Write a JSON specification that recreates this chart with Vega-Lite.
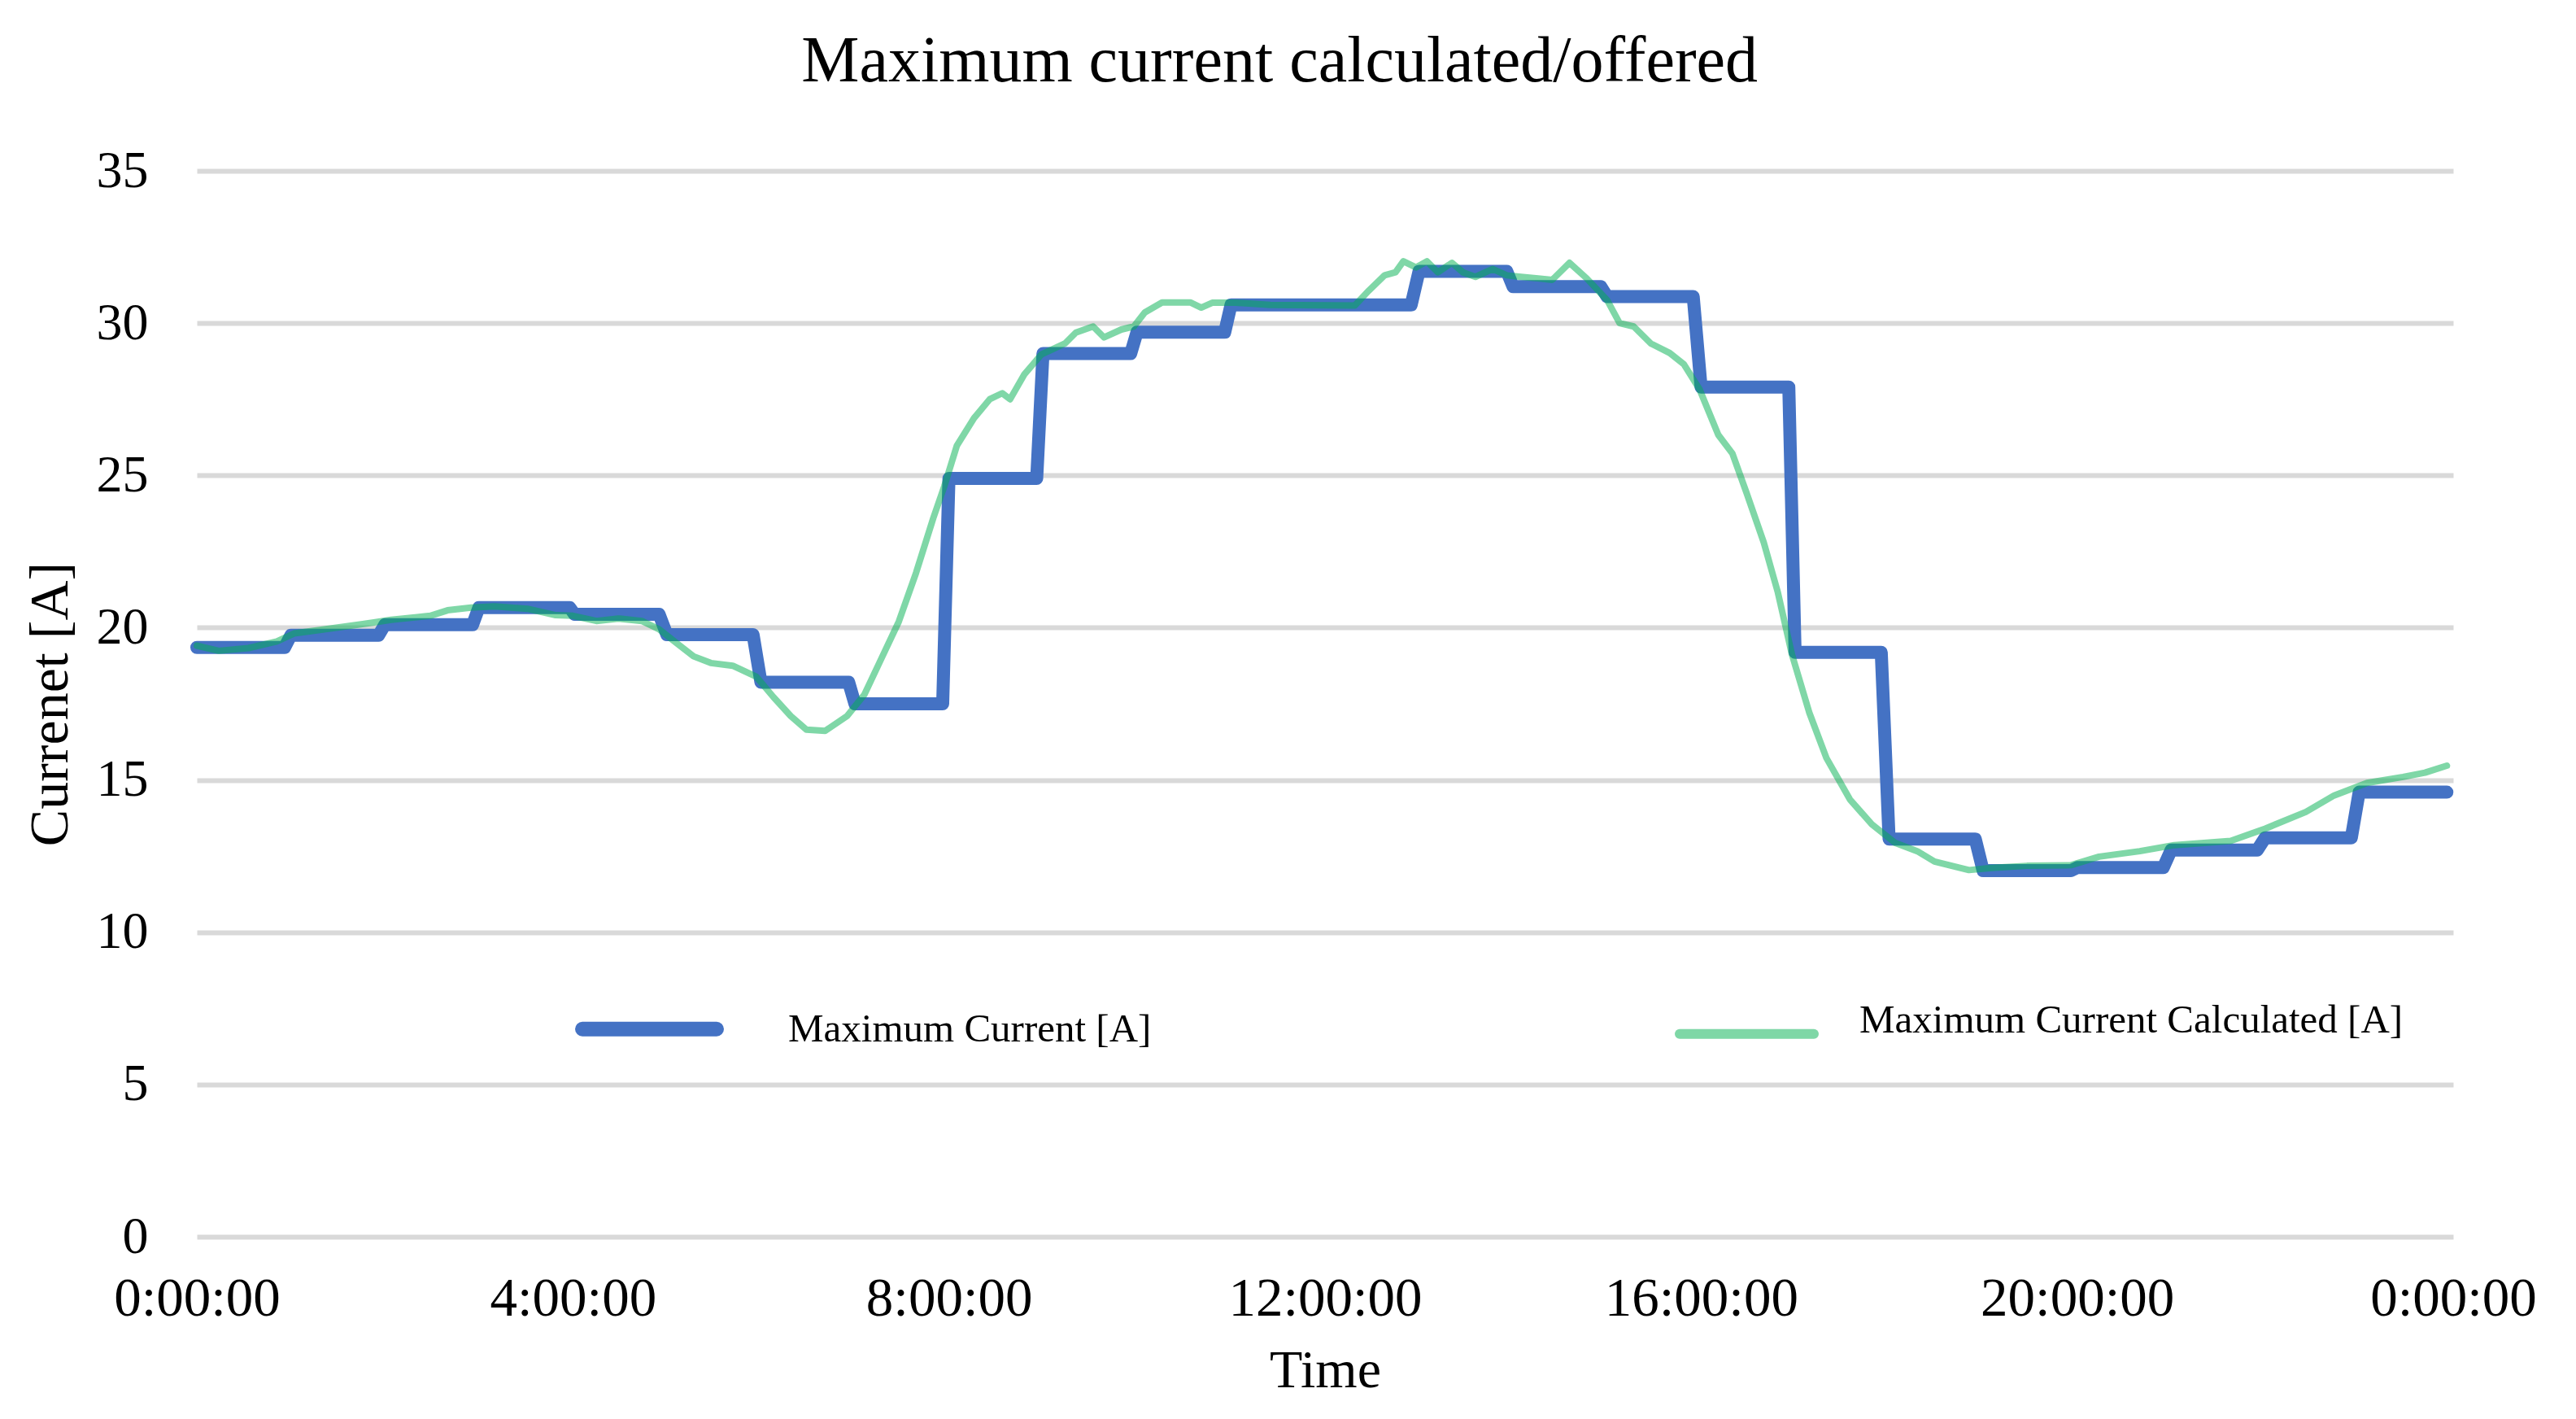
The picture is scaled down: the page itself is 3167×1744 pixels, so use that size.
{
  "$schema": "https://vega.github.io/schema/vega-lite/v6.json",
  "width": 2774,
  "height": 1310,
  "autosize": {"type": "none"},
  "padding": {"left": 242, "top": 210, "right": 151, "bottom": 224},
  "background": "white",
  "config": {
    "font": "Liberation Serif",
    "view": {"stroke": null},
    "axis": {"labelColor": "black", "titleColor": "black", "titleFontWeight": "normal", "ticks": false, "domain": false}
  },
  "title": {
    "text": "Maximum current calculated/offered",
    "fontSize": 80,
    "fontWeight": "normal",
    "color": "black",
    "anchor": "middle",
    "frame": "bounds",
    "baseline": "alphabetic",
    "offset": -2
  },
  "datasets": {
    "offered": [
      {"t": "2024-01-01T00:00", "v": 19.35},
      {"t": "2024-01-01T00:56", "v": 19.35},
      {"t": "2024-01-01T01:00", "v": 19.75},
      {"t": "2024-01-01T01:56", "v": 19.75},
      {"t": "2024-01-01T02:00", "v": 20.1},
      {"t": "2024-01-01T02:56", "v": 20.1},
      {"t": "2024-01-01T03:00", "v": 20.66},
      {"t": "2024-01-01T03:58", "v": 20.66},
      {"t": "2024-01-01T04:01", "v": 20.44},
      {"t": "2024-01-01T04:55", "v": 20.44},
      {"t": "2024-01-01T05:00", "v": 19.77},
      {"t": "2024-01-01T05:55", "v": 19.77},
      {"t": "2024-01-01T06:00", "v": 18.21},
      {"t": "2024-01-01T06:56", "v": 18.21},
      {"t": "2024-01-01T07:00", "v": 17.5},
      {"t": "2024-01-01T07:56", "v": 17.5},
      {"t": "2024-01-01T08:00", "v": 24.9},
      {"t": "2024-01-01T08:56", "v": 24.9},
      {"t": "2024-01-01T09:00", "v": 29.0},
      {"t": "2024-01-01T09:56", "v": 29.0},
      {"t": "2024-01-01T10:00", "v": 29.7},
      {"t": "2024-01-01T10:56", "v": 29.7},
      {"t": "2024-01-01T11:00", "v": 30.6},
      {"t": "2024-01-01T12:55", "v": 30.6},
      {"t": "2024-01-01T13:00", "v": 31.7},
      {"t": "2024-01-01T13:56", "v": 31.7},
      {"t": "2024-01-01T14:00", "v": 31.2},
      {"t": "2024-01-01T14:56", "v": 31.2},
      {"t": "2024-01-01T15:00", "v": 30.87},
      {"t": "2024-01-01T15:55", "v": 30.87},
      {"t": "2024-01-01T16:00", "v": 27.9},
      {"t": "2024-01-01T16:56", "v": 27.9},
      {"t": "2024-01-01T17:00", "v": 19.19},
      {"t": "2024-01-01T17:55", "v": 19.19},
      {"t": "2024-01-01T18:00", "v": 13.06},
      {"t": "2024-01-01T18:55", "v": 13.06},
      {"t": "2024-01-01T19:00", "v": 12.02},
      {"t": "2024-01-01T19:56", "v": 12.02},
      {"t": "2024-01-01T20:00", "v": 12.12},
      {"t": "2024-01-01T20:55", "v": 12.12},
      {"t": "2024-01-01T21:00", "v": 12.7},
      {"t": "2024-01-01T21:55", "v": 12.7},
      {"t": "2024-01-01T22:00", "v": 13.1},
      {"t": "2024-01-01T22:55", "v": 13.1},
      {"t": "2024-01-01T23:00", "v": 14.6},
      {"t": "2024-01-01T23:56", "v": 14.6}
    ],
    "calculated": [
      {"t": "2024-01-01T00:00", "v": 19.41},
      {"t": "2024-01-01T00:14", "v": 19.24},
      {"t": "2024-01-01T00:33", "v": 19.33},
      {"t": "2024-01-01T00:51", "v": 19.55},
      {"t": "2024-01-01T01:02", "v": 19.81},
      {"t": "2024-01-01T01:28", "v": 19.99},
      {"t": "2024-01-01T01:53", "v": 20.17},
      {"t": "2024-01-01T02:04", "v": 20.26},
      {"t": "2024-01-01T02:29", "v": 20.39},
      {"t": "2024-01-01T02:40", "v": 20.57},
      {"t": "2024-01-01T02:55", "v": 20.66},
      {"t": "2024-01-01T03:10", "v": 20.7},
      {"t": "2024-01-01T03:31", "v": 20.62},
      {"t": "2024-01-01T03:49", "v": 20.41},
      {"t": "2024-01-01T04:00", "v": 20.39},
      {"t": "2024-01-01T04:15", "v": 20.22},
      {"t": "2024-01-01T04:29", "v": 20.3},
      {"t": "2024-01-01T04:44", "v": 20.22},
      {"t": "2024-01-01T04:55", "v": 19.95},
      {"t": "2024-01-01T05:06", "v": 19.5},
      {"t": "2024-01-01T05:17", "v": 19.06},
      {"t": "2024-01-01T05:28", "v": 18.84},
      {"t": "2024-01-01T05:42", "v": 18.75},
      {"t": "2024-01-01T05:57", "v": 18.39},
      {"t": "2024-01-01T06:08", "v": 17.72},
      {"t": "2024-01-01T06:19", "v": 17.1},
      {"t": "2024-01-01T06:29", "v": 16.65},
      {"t": "2024-01-01T06:41", "v": 16.61},
      {"t": "2024-01-01T06:55", "v": 17.1},
      {"t": "2024-01-01T07:06", "v": 17.8},
      {"t": "2024-01-01T07:17", "v": 19.0},
      {"t": "2024-01-01T07:28", "v": 20.2},
      {"t": "2024-01-01T07:39", "v": 21.8},
      {"t": "2024-01-01T07:50", "v": 23.6},
      {"t": "2024-01-01T07:57", "v": 24.64},
      {"t": "2024-01-01T08:05", "v": 25.97},
      {"t": "2024-01-01T08:16", "v": 26.88},
      {"t": "2024-01-01T08:26", "v": 27.5},
      {"t": "2024-01-01T08:34", "v": 27.7},
      {"t": "2024-01-01T08:39", "v": 27.5},
      {"t": "2024-01-01T08:48", "v": 28.31},
      {"t": "2024-01-01T08:59", "v": 28.97},
      {"t": "2024-01-01T09:14", "v": 29.33},
      {"t": "2024-01-01T09:21", "v": 29.69},
      {"t": "2024-01-01T09:32", "v": 29.89},
      {"t": "2024-01-01T09:39", "v": 29.53},
      {"t": "2024-01-01T09:50", "v": 29.79},
      {"t": "2024-01-01T09:58", "v": 29.89},
      {"t": "2024-01-01T10:05", "v": 30.35},
      {"t": "2024-01-01T10:16", "v": 30.68},
      {"t": "2024-01-01T10:34", "v": 30.68},
      {"t": "2024-01-01T10:41", "v": 30.51},
      {"t": "2024-01-01T10:48", "v": 30.67},
      {"t": "2024-01-01T11:03", "v": 30.67},
      {"t": "2024-01-01T11:25", "v": 30.6},
      {"t": "2024-01-01T12:19", "v": 30.58},
      {"t": "2024-01-01T12:28", "v": 31.07},
      {"t": "2024-01-01T12:38", "v": 31.57},
      {"t": "2024-01-01T12:45", "v": 31.67},
      {"t": "2024-01-01T12:50", "v": 32.03},
      {"t": "2024-01-01T12:58", "v": 31.83},
      {"t": "2024-01-01T13:05", "v": 32.03},
      {"t": "2024-01-01T13:12", "v": 31.67},
      {"t": "2024-01-01T13:21", "v": 31.98},
      {"t": "2024-01-01T13:28", "v": 31.67},
      {"t": "2024-01-01T13:36", "v": 31.52},
      {"t": "2024-01-01T13:47", "v": 31.78},
      {"t": "2024-01-01T13:56", "v": 31.57},
      {"t": "2024-01-01T14:05", "v": 31.52},
      {"t": "2024-01-01T14:16", "v": 31.47},
      {"t": "2024-01-01T14:25", "v": 31.42},
      {"t": "2024-01-01T14:36", "v": 31.98},
      {"t": "2024-01-01T14:47", "v": 31.47},
      {"t": "2024-01-01T15:00", "v": 30.76},
      {"t": "2024-01-01T15:08", "v": 30.0},
      {"t": "2024-01-01T15:17", "v": 29.89},
      {"t": "2024-01-01T15:28", "v": 29.33},
      {"t": "2024-01-01T15:40", "v": 29.02},
      {"t": "2024-01-01T15:49", "v": 28.65},
      {"t": "2024-01-01T15:59", "v": 27.83},
      {"t": "2024-01-01T16:11", "v": 26.33},
      {"t": "2024-01-01T16:20", "v": 25.72},
      {"t": "2024-01-01T16:29", "v": 24.43},
      {"t": "2024-01-01T16:40", "v": 22.8},
      {"t": "2024-01-01T16:49", "v": 21.16},
      {"t": "2024-01-01T16:58", "v": 19.12},
      {"t": "2024-01-01T17:09", "v": 17.22},
      {"t": "2024-01-01T17:20", "v": 15.72},
      {"t": "2024-01-01T17:35", "v": 14.36},
      {"t": "2024-01-01T17:49", "v": 13.54},
      {"t": "2024-01-01T18:04", "v": 12.93},
      {"t": "2024-01-01T18:18", "v": 12.66},
      {"t": "2024-01-01T18:29", "v": 12.32},
      {"t": "2024-01-01T18:51", "v": 12.04},
      {"t": "2024-01-01T19:05", "v": 12.11},
      {"t": "2024-01-01T19:28", "v": 12.18},
      {"t": "2024-01-01T19:56", "v": 12.2},
      {"t": "2024-01-01T20:14", "v": 12.48},
      {"t": "2024-01-01T20:40", "v": 12.66},
      {"t": "2024-01-01T21:02", "v": 12.86},
      {"t": "2024-01-01T21:38", "v": 13.0},
      {"t": "2024-01-01T22:00", "v": 13.4},
      {"t": "2024-01-01T22:26", "v": 13.95},
      {"t": "2024-01-01T22:44", "v": 14.49},
      {"t": "2024-01-01T23:05", "v": 14.9},
      {"t": "2024-01-01T23:28", "v": 15.1},
      {"t": "2024-01-01T23:42", "v": 15.24},
      {"t": "2024-01-01T23:56", "v": 15.47}
    ]
  },
  "encoding": {
    "x": {
      "field": "t",
      "type": "temporal",
      "title": "Time",
      "scale": {"domain": [{"year": 2024, "month": 1, "date": 1, "hours": 0}, {"year": 2024, "month": 1, "date": 2, "hours": 0}]},
      "axis": {
        "values": [
          {"year": 2024, "month": 1, "date": 1, "hours": 0},
          {"year": 2024, "month": 1, "date": 1, "hours": 4},
          {"year": 2024, "month": 1, "date": 1, "hours": 8},
          {"year": 2024, "month": 1, "date": 1, "hours": 12},
          {"year": 2024, "month": 1, "date": 1, "hours": 16},
          {"year": 2024, "month": 1, "date": 1, "hours": 20},
          {"year": 2024, "month": 1, "date": 2, "hours": 0}
        ],
        "format": "%-H:%M:%S",
        "grid": false,
        "labelFontSize": 67,
        "labelLimit": 0,
        "labelPadding": 43,
        "labelFlush": false,
        "labelOverlap": false,
        "labelBound": false,
        "titleFontSize": 66,
        "titlePadding": 23
      }
    },
    "y": {
      "field": "v",
      "type": "quantitative",
      "title": "Currenet [A]",
      "scale": {"domain": [0, 35], "nice": false},
      "axis": {
        "values": [0, 5, 10, 15, 20, 25, 30, 35],
        "grid": true,
        "gridColor": "#d9d9d9",
        "gridWidth": 6,
        "labelFontSize": 64,
        "labelPadding": 60,
        "titleFontSize": 68,
        "titlePadding": 22
      }
    }
  },
  "layer": [
    {
      "data": {"name": "offered"},
      "mark": {"type": "line", "strokeWidth": 16, "strokeCap": "round", "strokeJoin": "round"},
      "encoding": {
        "color": {
          "datum": "Maximum Current [A]",
          "type": "nominal",
          "scale": {"domain": ["Maximum Current [A]", "Maximum Current Calculated [A]"], "range": ["#4472C4", "#00B050"]},
          "legend": {
            "title": null,
            "orient": "none",
            "legendX": 532,
            "legendY": 1030,
            "direction": "horizontal",
            "columns": 2,
            "columnPadding": 625,
            "symbolType": "stroke",
            "symbolSize": 27225,
            "symbolStrokeWidth": 16,
            "labelFontSize": 49,
            "labelLimit": 0,
            "labelOffset": 146,
            "labelColor": "black",
            "encode": {
              "symbols": {
                "update": {
                  "strokeCap": {"value": "round"},
                  "strokeWidth": {"signal": "datum.value === 'Maximum Current [A]' ? 18 : 12"},
                  "opacity": {"signal": "datum.value === 'Maximum Current [A]' ? 1 : 0.5"}
                }
              },
              "labels": {
                "update": {
                  "dy": {"signal": "datum.value === 'Maximum Current [A]' ? 0 : -17"},
                  "dx": {"signal": "datum.value === 'Maximum Current [A]' ? 0 : -32"}
                }
              }
            }
          }
        }
      }
    },
    {
      "data": {"name": "calculated"},
      "mark": {"type": "line", "strokeWidth": 8, "strokeCap": "round", "strokeJoin": "round", "opacity": 0.5},
      "encoding": {
        "color": {"datum": "Maximum Current Calculated [A]", "type": "nominal"}
      }
    }
  ]
}
